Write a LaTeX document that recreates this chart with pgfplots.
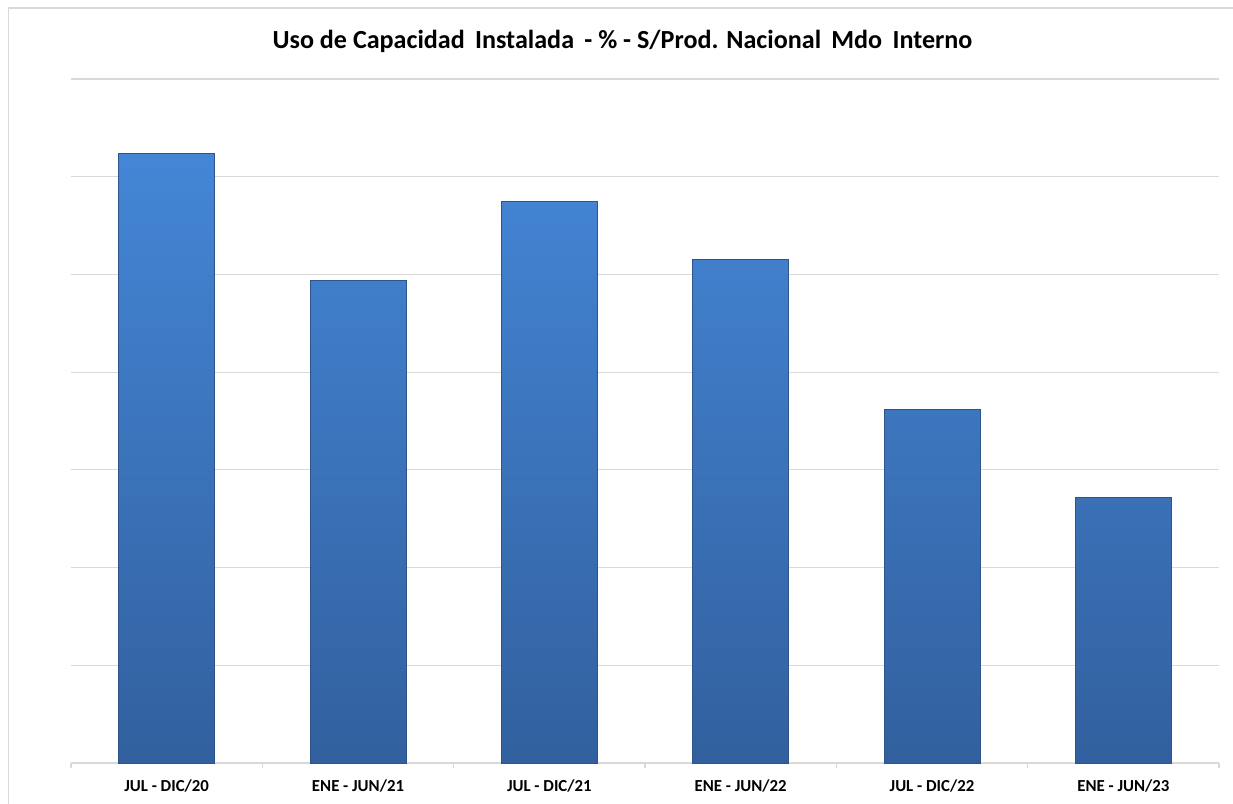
\documentclass[border=0pt]{standalone}
\usepackage{fontspec}
\setmainfont{Carlito}
\usepackage{pgfplots}
\pgfplotsset{compat=1.18}
\definecolor{bartop}{RGB}{68,134,214}
\definecolor{barbot}{RGB}{50,96,158}
\definecolor{baredge}{RGB}{45,85,140}
\definecolor{gridc}{RGB}{217,217,217}
\begin{document}
\begin{tikzpicture}[x=1pt,y=1pt]
\path[use as bounding box] (0,0) rectangle (616.5,402);
\draw[gridc, line width=0.7pt] (4.2,-5) -- (4.2,398) -- (620,398);
\node[font=\fontsize{13.05}{15}\selectfont\bfseries] at (311.2,381.5) {Uso de Capacidad\, Instalada\, - \% - S/Prod. Nacional\, Mdo\, Interno};
\begin{axis}[at={(35.5pt,20.5pt)}, anchor=south west, scale only axis,
  width=574pt, height=342pt,
  xmin=-0.5, xmax=5.5, ymin=0, ymax=70,
  axis x line*=bottom, axis y line*=left,
  y axis line style={draw=none},
  ytick={0,10,...,70}, yticklabels={}, ytick style={draw=none},
  ymajorgrids, grid style={gridc, line width=0.6pt},
  xtick={0,...,5},
  xticklabels={JUL - DIC/20, ENE - JUN/21, JUL - DIC/21, ENE - JUN/22, JUL - DIC/22, ENE - JUN/23},
  major x tick style={draw=none},
  minor xtick={-0.5,0.5,...,5.5},
  minor tick length=2.5pt, tick align=outside,
  minor x tick style={gridc, line width=0.6pt},
  x axis line style={gridc, line width=0.6pt},
  ticklabel style={font=\fontsize{8.4}{10}\selectfont\bfseries, text=black},
  xticklabel style={yshift=-0.5pt},
  clip=false,
]
\addplot[ybar, bar width=48pt, top color=bartop, bottom color=barbot, draw=baredge, line width=0.4pt]
  coordinates {(0,62.4) (1,49.4) (2,57.5) (3,51.5) (4,36.2) (5,27.2)};
\end{axis}
\end{tikzpicture}
\end{document}
